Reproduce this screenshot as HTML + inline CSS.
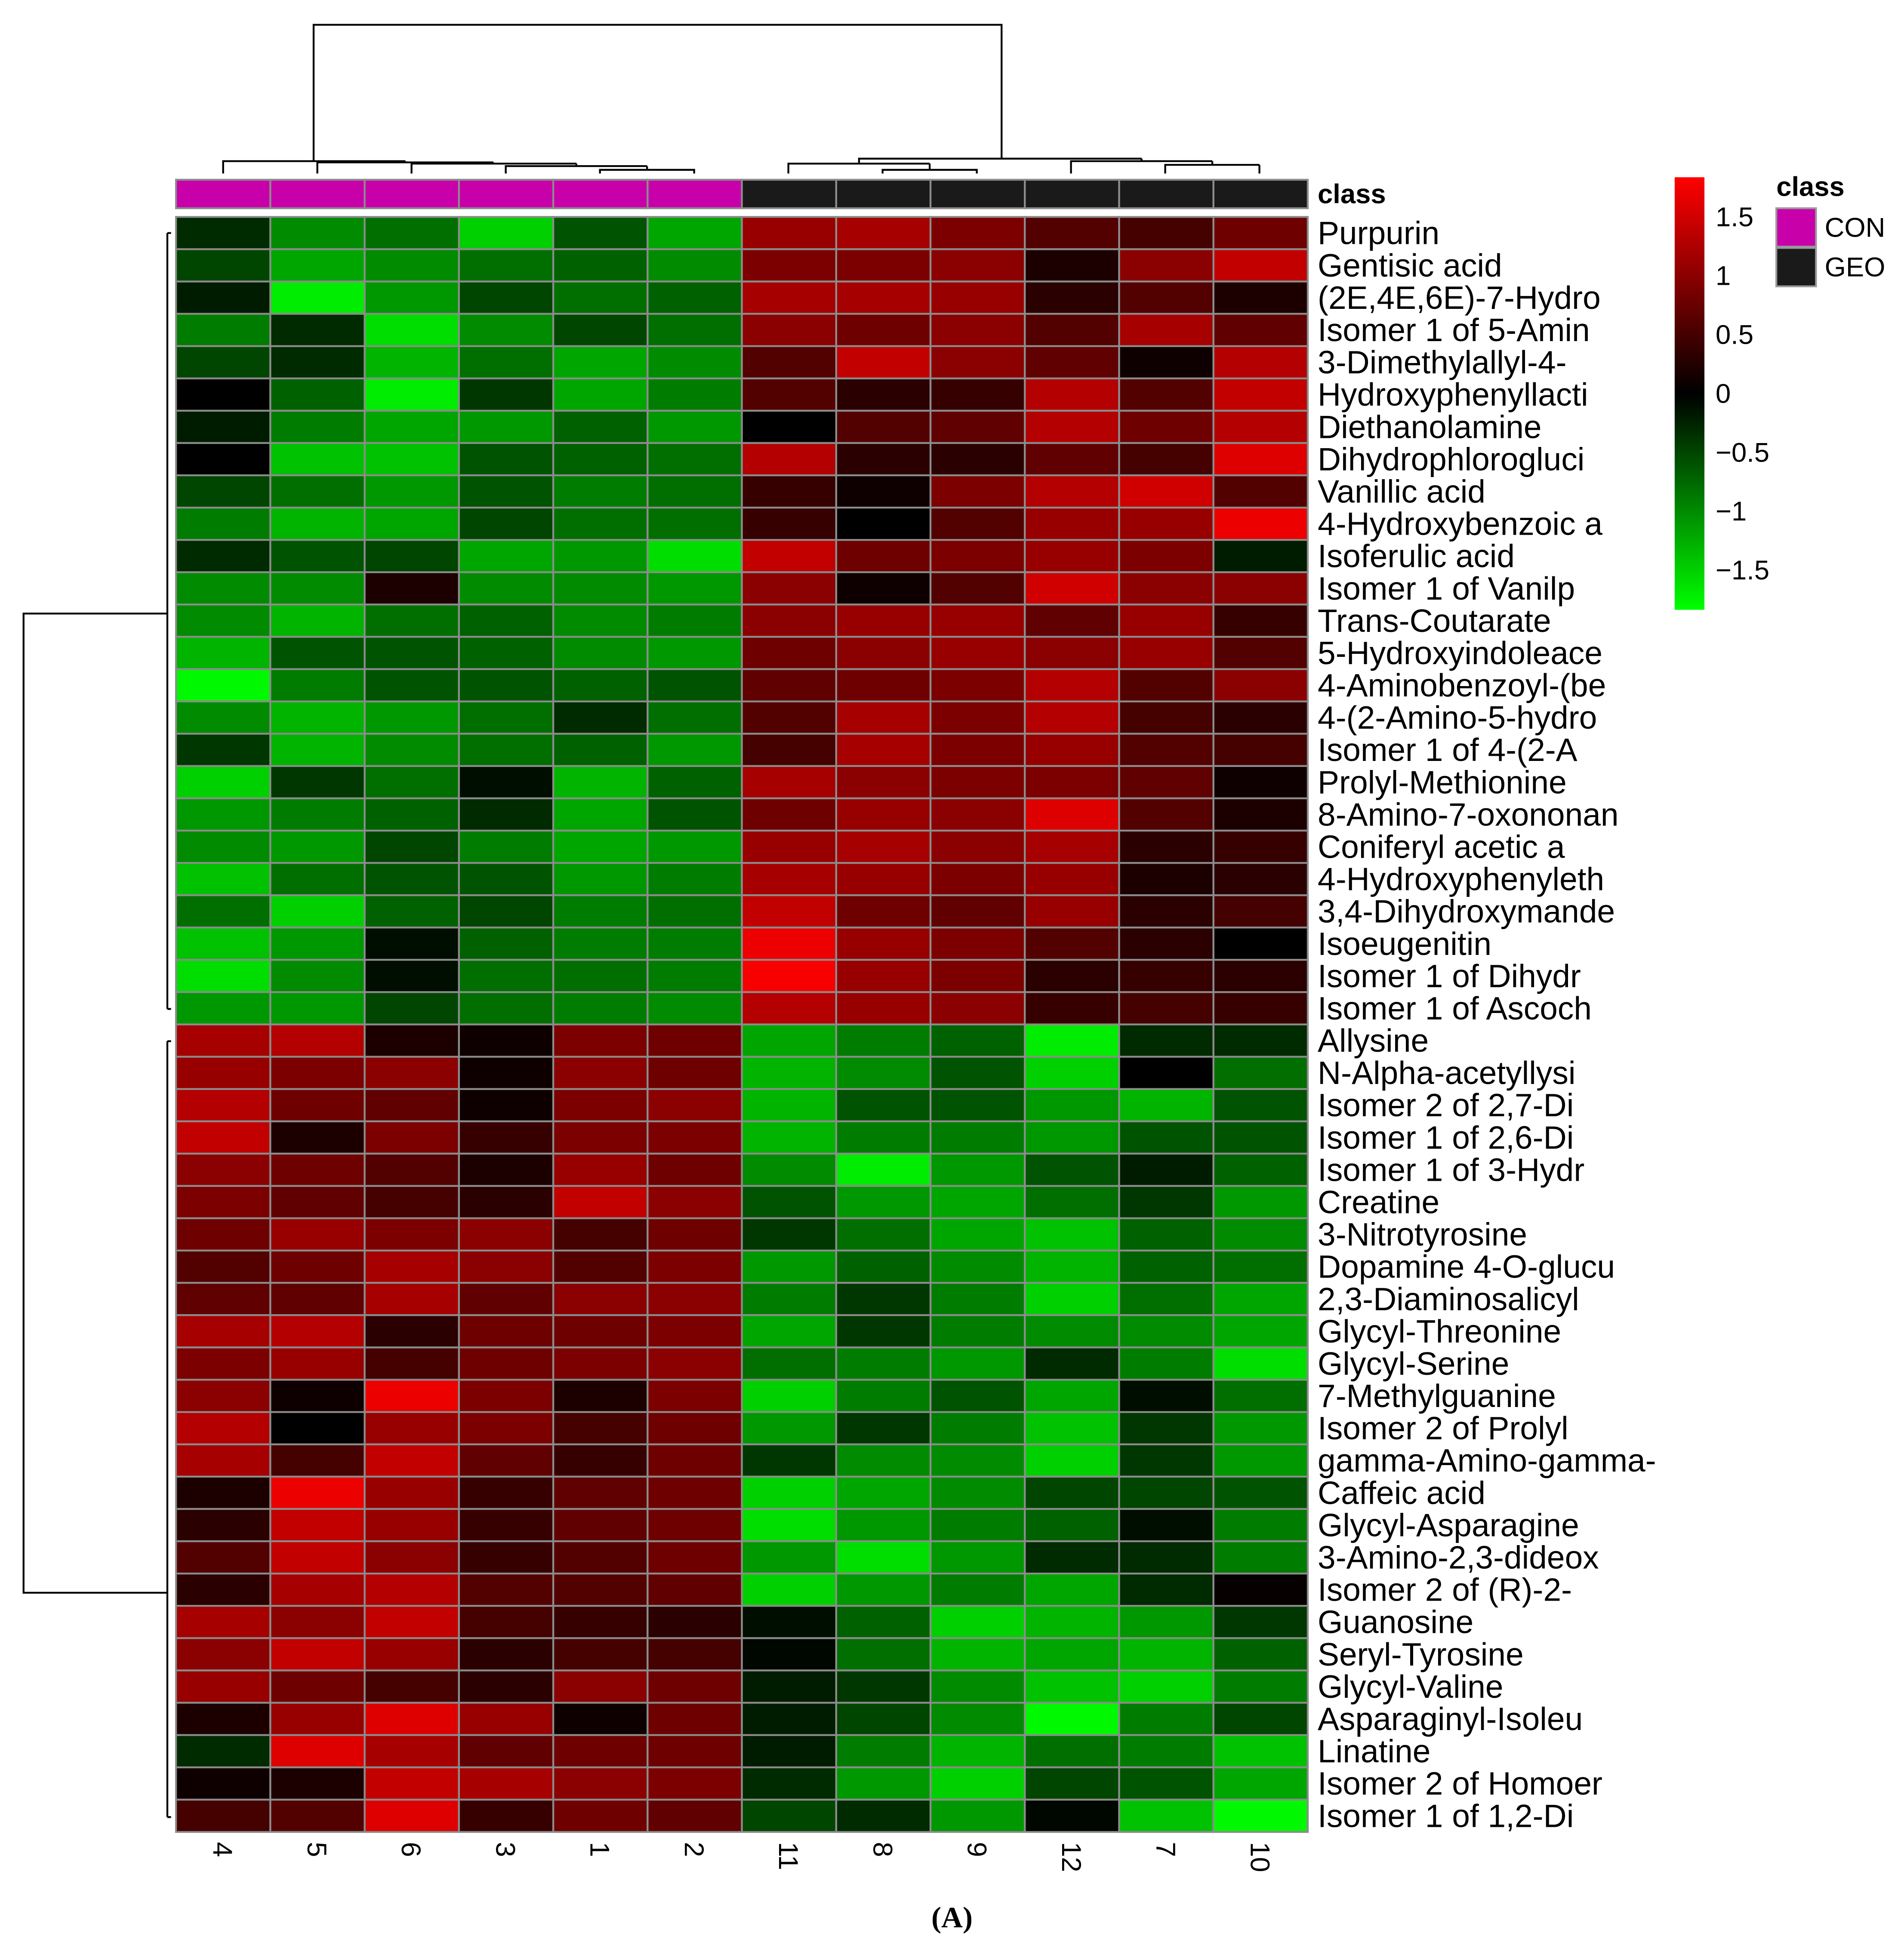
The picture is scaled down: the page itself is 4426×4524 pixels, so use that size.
<!DOCTYPE html>
<html><head><meta charset="utf-8"><style>
html,body{margin:0;padding:0;background:#fff;}
svg{display:block;}
text{font-family:"Liberation Sans",sans-serif;}
</style></head><body>
<svg id="chart" width="4426" height="4524" viewBox="0 0 1536 1570" xmlns="http://www.w3.org/2000/svg">
<g id="dendro-top" fill="none" stroke="#000" stroke-width="1.5">
<path d="M484 140V137H560V140 M522 137V134 M408 140V134H522 M465 134V132 M332 140V132H465 M398 132V131 M256 140V131H398 M327 131V130 M180 140V130H327 M253 130V20H808V128 M712 140V137H788V140 M750 137V132 M636 140V132H750 M693 132V129 M940 140V133H1016V133 M940 133V140 M1016 133V140 M978 133V130 M864 140V130H978 M921 130V128 M693 129V128H921"/>
</g>
<g id="dendro-left" fill="none" stroke="#000" stroke-width="1.5">
<path d="M135 188V814 M135 840V1466 M135 495H19V1285H135 M138 188H135 M138 814H135 M138 840H135 M138 1466H135"/>
</g>
<g id="cells"></g>
<g id="classbar"></g>
<text x="1063" y="164" font-size="22" font-weight="bold">class</text>
<g id="rowlabels"></g>
<g id="collabels"></g>
<defs><linearGradient id="cbg" x1="0" y1="0" x2="0" y2="1">
<stop offset="0" stop-color="#ff0000"/><stop offset="0.5" stop-color="#000"/><stop offset="1" stop-color="#00ff00"/></linearGradient></defs>
<rect x="1351" y="143" width="24" height="349" fill="url(#cbg)"/>
<g id="cbticks"></g>
<text x="1433" y="158" font-size="22" font-weight="bold">class</text>
<rect x="1433" y="168" width="32" height="31" fill="#c800aa" stroke="#999" stroke-width="1.5"/>
<text x="1472" y="191" font-size="22">CON</text>
<rect x="1433" y="200" width="32" height="31" fill="#1a1a1a" stroke="#999" stroke-width="1.5"/>
<text x="1472" y="223" font-size="22">GEO</text>
<text x="768" y="1555" font-size="24" font-weight="bold" text-anchor="middle" style="font-family:'Liberation Serif',serif">(A)</text>
</svg>
<script>
const colLabels=["4","5","6","3","1","2","11","8","9","12","7","10"];
const colClass=["CON","CON","CON","CON","CON","CON","GEO","GEO","GEO","GEO","GEO","GEO"];
const rowLabels=["Purpurin","Gentisic acid","(2E,4E,6E)-7-Hydro","Isomer 1 of 5-Amin","3-Dimethylallyl-4-","Hydroxyphenyllacti","Diethanolamine","Dihydrophlorogluci","Vanillic acid","4-Hydroxybenzoic a","Isoferulic acid","Isomer 1 of Vanilp","Trans-Coutarate","5-Hydroxyindoleace","4-Aminobenzoyl-(be","4-(2-Amino-5-hydro","Isomer 1 of 4-(2-A","Prolyl-Methionine","8-Amino-7-oxononan","Coniferyl acetic a","4-Hydroxyphenyleth","3,4-Dihydroxymande","Isoeugenitin","Isomer 1 of Dihydr","Isomer 1 of Ascoch","Allysine","N-Alpha-acetyllysi","Isomer 2 of 2,7-Di","Isomer 1 of 2,6-Di","Isomer 1 of 3-Hydr","Creatine","3-Nitrotyrosine","Dopamine 4-O-glucu","2,3-Diaminosalicyl","Glycyl-Threonine","Glycyl-Serine","7-Methylguanine","Isomer 2 of Prolyl","gamma-Amino-gamma-","Caffeic acid","Glycyl-Asparagine","3-Amino-2,3-dideox","Isomer 2 of (R)-2-","Guanosine","Seryl-Tyrosine","Glycyl-Valine","Asparaginyl-Isoleu","Linatine","Isomer 2 of Homoer","Isomer 1 of 1,2-Di"];
const vals=[
[-0.3,-1.0,-0.8,-1.5,-0.6,-1.2,1.1,1.2,0.9,0.6,0.5,0.8],
[-0.5,-1.2,-1.0,-0.8,-0.7,-1.0,0.9,0.9,1.0,0.2,1.0,1.4],
[-0.2,-1.7,-1.1,-0.5,-0.8,-0.7,1.2,1.2,1.1,0.3,0.6,0.2],
[-0.9,-0.3,-1.6,-1.0,-0.5,-0.8,1.0,0.8,1.0,0.6,1.2,0.7],
[-0.5,-0.3,-1.3,-0.8,-1.2,-1.0,0.6,1.4,1.0,0.7,0.1,1.3],
[0.0,-0.7,-1.7,-0.4,-1.2,-0.9,0.6,0.3,0.4,1.3,0.6,1.4],
[-0.2,-0.9,-1.2,-1.1,-0.7,-1.1,0.0,0.6,0.7,1.3,0.8,1.3],
[0.0,-1.4,-1.4,-0.6,-0.7,-0.8,1.3,0.3,0.3,0.7,0.5,1.6],
[-0.5,-0.8,-1.1,-0.6,-0.9,-0.8,0.4,0.1,0.9,1.3,1.5,0.6],
[-0.9,-1.3,-1.2,-0.5,-0.8,-0.8,0.4,0.0,0.6,1.1,1.1,1.7],
[-0.3,-0.6,-0.5,-1.2,-1.1,-1.6,1.4,0.8,0.9,1.1,0.9,-0.2],
[-1.0,-1.0,0.2,-1.0,-1.0,-1.1,1.0,0.1,0.6,1.5,1.0,1.0],
[-1.0,-1.3,-0.8,-0.7,-1.0,-0.9,1.0,1.1,1.1,0.7,1.1,0.4],
[-1.3,-0.6,-0.6,-0.7,-1.0,-1.1,0.8,1.0,1.1,1.0,1.1,0.6],
[-1.8,-0.9,-0.6,-0.6,-0.7,-0.6,0.7,0.8,0.9,1.3,0.6,1.0],
[-1.0,-1.3,-1.1,-0.8,-0.3,-0.8,0.6,1.2,0.9,1.3,0.5,0.3],
[-0.4,-1.3,-1.0,-0.8,-0.7,-1.1,0.5,1.2,0.9,1.1,0.6,0.5],
[-1.5,-0.4,-0.8,-0.1,-1.3,-0.7,1.2,1.0,0.9,0.9,0.7,0.1],
[-1.1,-0.9,-0.7,-0.3,-1.2,-0.6,0.8,1.1,1.0,1.6,0.6,0.2],
[-1.0,-1.1,-0.5,-0.9,-1.2,-1.1,1.1,1.2,1.0,1.2,0.3,0.4],
[-1.4,-0.8,-0.6,-0.6,-1.1,-0.9,1.2,1.1,0.9,1.1,0.2,0.3],
[-0.8,-1.5,-0.7,-0.5,-0.9,-0.8,1.4,0.8,0.7,1.1,0.3,0.5],
[-1.4,-1.1,-0.1,-0.7,-0.9,-0.9,1.7,1.1,0.9,0.6,0.3,0.0],
[-1.6,-1.0,-0.1,-0.8,-0.8,-0.9,1.8,1.1,0.9,0.3,0.4,0.3],
[-1.1,-1.1,-0.5,-0.8,-0.9,-1.0,1.3,1.1,1.0,0.4,0.5,0.4],
[1.2,1.3,0.2,0.1,0.9,0.8,-1.2,-0.9,-0.7,-1.7,-0.3,-0.3],
[1.1,0.9,1.0,0.1,1.0,0.8,-1.3,-1.0,-0.6,-1.5,0.0,-0.8],
[1.3,0.8,0.7,0.1,0.9,1.0,-1.3,-0.6,-0.6,-1.1,-1.3,-0.6],
[1.4,0.2,0.9,0.4,0.9,0.9,-1.3,-0.9,-0.9,-1.1,-0.6,-0.6],
[1.0,0.8,0.6,0.2,1.1,0.8,-1.0,-1.7,-1.1,-0.6,-0.2,-0.7],
[0.9,0.7,0.5,0.3,1.4,1.0,-0.6,-1.1,-1.2,-0.8,-0.4,-1.1],
[0.8,1.1,0.9,1.0,0.5,0.8,-0.4,-0.8,-1.2,-1.4,-0.7,-1.0],
[0.6,0.8,1.2,1.0,0.6,0.9,-1.1,-0.7,-1.0,-1.3,-0.7,-0.8],
[0.7,0.7,1.2,0.7,1.0,1.0,-0.9,-0.4,-0.9,-1.5,-0.8,-1.2],
[1.2,1.3,0.3,0.8,0.8,0.9,-1.2,-0.4,-0.9,-1.0,-1.0,-1.2],
[0.9,1.1,0.5,0.8,0.9,1.0,-0.8,-0.9,-1.1,-0.3,-0.9,-1.6],
[1.0,0.1,1.7,0.9,0.2,0.9,-1.5,-0.9,-0.6,-1.2,-0.1,-0.8],
[1.3,0.0,1.1,0.9,0.5,0.8,-1.1,-0.4,-0.9,-1.4,-0.4,-1.1],
[1.2,0.5,1.4,0.7,0.4,0.8,-0.4,-1.0,-1.0,-1.5,-0.4,-1.1],
[0.2,1.7,1.1,0.4,0.7,0.8,-1.5,-1.2,-1.0,-0.5,-0.5,-0.6],
[0.3,1.4,1.1,0.4,0.7,0.8,-1.6,-1.1,-0.9,-0.7,-0.1,-0.9],
[0.6,1.4,1.0,0.4,0.6,0.8,-1.1,-1.6,-1.1,-0.3,-0.3,-0.9],
[0.3,1.2,1.3,0.6,0.6,0.7,-1.5,-1.1,-0.9,-1.2,-0.3,0.05],
[1.2,1.0,1.4,0.5,0.4,0.3,-0.1,-0.7,-1.5,-1.3,-1.1,-0.4],
[1.0,1.4,1.1,0.3,0.5,0.5,-0.05,-0.8,-1.3,-1.2,-1.3,-0.7],
[1.1,0.8,0.5,0.3,1.0,0.8,-0.2,-0.4,-1.0,-1.4,-1.5,-0.9],
[0.2,1.1,1.6,1.1,0.1,0.8,-0.2,-0.5,-1.0,-1.8,-0.9,-0.5],
[-0.3,1.6,1.2,0.7,0.8,0.8,-0.2,-0.9,-1.3,-0.8,-0.9,-1.4],
[0.1,0.2,1.4,1.2,1.0,0.9,-0.3,-1.1,-1.5,-0.5,-0.6,-1.2],
[0.5,0.6,1.6,0.4,0.8,0.7,-0.5,-0.3,-1.1,-0.05,-1.4,-1.8]];
const cbTicks=[1.5,1,0.5,0,-0.5,-1,-1.5];

const NS="http://www.w3.org/2000/svg";
const X0=142,X1=1055,Y0=175,Y1=1478;
const cw=(X1-X0)/colLabels.length, rh=(Y1-Y0)/rowLabels.length;
const xOf=i=>X0+i*cw, yOf=j=>Y0+j*rh;
const VMAX=1.84;
function color(v){const t=Math.max(-1,Math.min(1,v/VMAX));const c=Math.round(Math.abs(t)*255);return t>=0?`rgb(${c},0,0)`:`rgb(0,${c},0)`;}
const cbY=v=>317-v*95;
function mk(tag,attrs,parent){const e=document.createElementNS(NS,tag);for(const k in attrs)e.setAttribute(k,attrs[k]);parent.appendChild(e);return e;}
const cells=document.getElementById('cells');
vals.forEach((row,j)=>row.forEach((v,i)=>{
  const r=mk('rect',{x:xOf(i),y:yOf(j),width:cw,height:rh,fill:color(v),stroke:'#8c8c8c','stroke-width':1.5},cells);
  
  
}));
const cb=document.getElementById('classbar');
colClass.forEach((c,i)=>{
  const r=mk('rect',{x:xOf(i),y:145,width:cw,height:23,fill:c==='CON'?'#c800aa':'#1a1a1a',stroke:'#8c8c8c','stroke-width':1.5},cb);
  
  
});
const rl=document.getElementById('rowlabels');
rowLabels.forEach((s,j)=>{
  const t=mk('text',{x:1063,y:yOf(j)+rh/2+9,'font-size':26},rl);t.textContent=s;
  
  
});
const cl=document.getElementById('collabels');
colLabels.forEach((s,i)=>{
  const cx=xOf(i)+cw/2;
  const t=mk('text',{x:0,y:0,'font-size':22,transform:`translate(${cx-8},1486) rotate(90)`},cl);t.textContent=s;
  
  
});
const ct=document.getElementById('cbticks');
cbTicks.forEach(v=>{
  const t=mk('text',{x:1384,y:cbY(v)+8,'font-size':22},ct);t.textContent=(v<0?'\u2212'+Math.abs(v):String(v));
  
  
});
</script>
</body></html>
